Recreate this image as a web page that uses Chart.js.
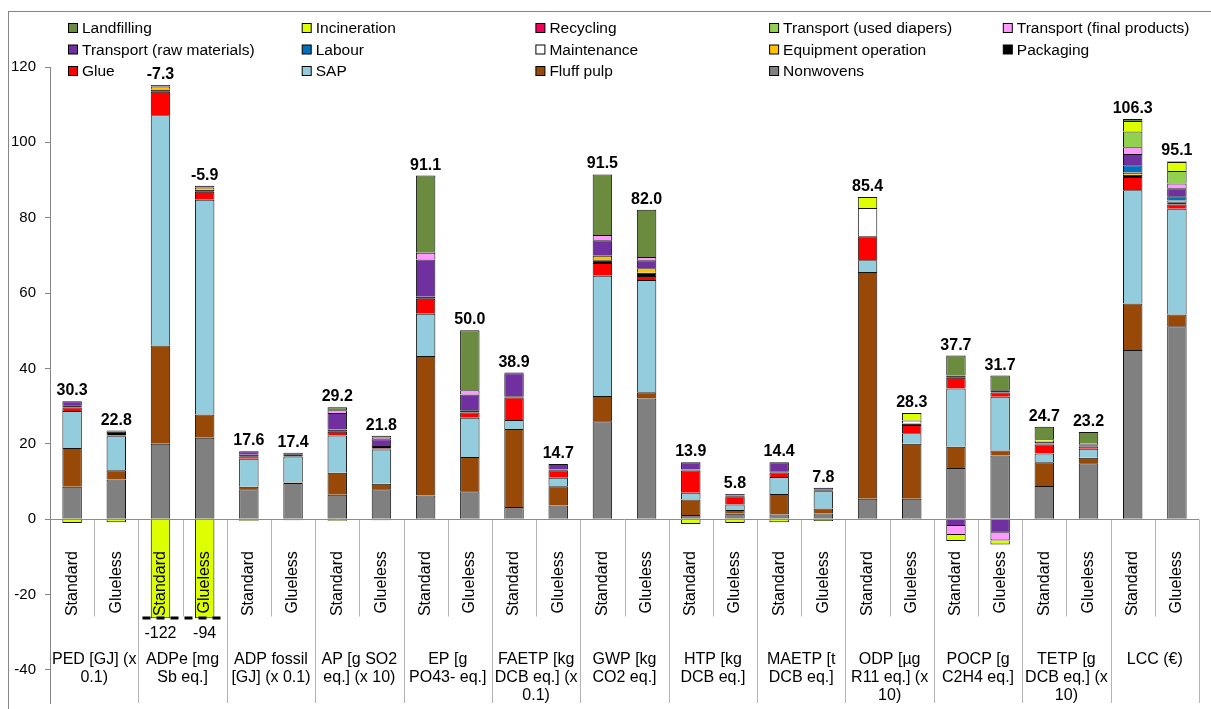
<!DOCTYPE html>
<html>
<head>
<meta charset="utf-8">
<script src="https://cdn.jsdelivr.net/npm/chart.js@4.4.1/dist/chart.umd.min.js"></script>
<style>
  body { margin: 0; background: #fff; }
</style>
</head>
<body>
<canvas id="lcaChart" width="1211" height="709"></canvas>
<script>
const FONT = "'Liberation Sans', Arial, sans-serif";

// two bars per impact category
const variants = ['Standard', 'Glueless'];
const categories = [
  ['PED [GJ] (x', '0.1)'],
  ['ADPe [mg', 'Sb eq.]'],
  ['ADP fossil', '[GJ] (x 0.1)'],
  ['AP [g SO2', 'eq.] (x 10)'],
  ['EP [g', 'PO43- eq.]'],
  ['FAETP [kg', 'DCB eq.] (x', '0.1)'],
  ['GWP [kg', 'CO2 eq.]'],
  ['HTP [kg', 'DCB eq.]'],
  ['MAETP [t', 'DCB eq.]'],
  ['ODP [µg', 'R11 eq.] (x', '10)'],
  ['POCP [g', 'C2H4 eq.]'],
  ['TETP [g', 'DCB eq.] (x', '10)'],
  ['LCC (€)']
];

// contributions per bar: Standard, Glueless for each category
const nonwovens      = [8.6, 10.5, 20.0, 21.6, 7.9, 9.6, 6.5, 7.9, 6.3, 7.4, 3.2, 3.6, 26.0, 32.0, 1.1, 1.4, 1.2, 1.5, 5.4, 5.4, 13.6, 16.9, 8.8, 14.8, 44.9, 51.2];
const fluffPulp      = [10.3, 2.5, 26.1, 6.2, 0.7, 0.1, 5.8, 1.5, 37.0, 9.1, 20.7, 5.1, 6.7, 1.7, 4.1, 1.0, 5.5, 1.3, 60.2, 14.6, 5.6, 1.3, 6.3, 1.5, 12.3, 3.1];
const sap            = [9.8, 9.0, 61.1, 57.0, 7.4, 6.9, 9.9, 9.1, 11.2, 10.4, 2.4, 2.3, 31.9, 29.8, 1.8, 1.5, 4.5, 4.6, 3.1, 2.8, 15.5, 14.3, 2.3, 2.4, 30.1, 28.1];
const glue           = [0.9, 0.2, 6.2, 2.1, 0.7, 0, 1.0, 0.3, 4.0, 1.4, 6.0, 2.0, 3.4, 1.0, 5.9, 2.2, 1.2, 0.1, 6.4, 2.2, 2.8, 1.1, 2.4, 0.6, 3.5, 1.1];
const packaging      = [0.6, 1.0, 0.6, 0.5, 0.4, 0.6, 0.6, 0.6, 0.5, 0.6, 0.3, 0.2, 0.7, 0.9, 0.3, 0.2, 0.3, 0.3, 0, 0.4, 0.6, 0.6, 0.3, 0.3, 0.6, 0.6];
const equipment      = [0, 0, 0.8, 0.6, 0, 0, 0, 0, 0, 0, 0, 0, 1.2, 1.2, 0, 0, 0, 0, 0, 0, 0, 0, 0, 0, 0.5, 0.5];
const maintenance    = [0, 0, 0, 0, 0, 0, 0, 0, 0, 0, 0, 0, 0, 0, 0, 0, 0, 0, 7.5, 0.8, 0, 0, 0, 0, 0.2, 0];
const labour         = [0, 0, 0, 0, 0, 0, 0, 0, 0, 0, 0, 0, 0, 0, 0, 0, 0, 0, 0, 0, 0, 0, 0, 0, 1.8, 1.1];
const transportRaw   = [1.1, 0.3, 0.4, 0.5, 0.9, 0.4, 4.4, 1.8, 9.9, 4.2, 6.1, 1.4, 4.1, 2.1, 1.9, 0.4, 2.4, 0.5, 0, 0, -1.8, -3.6, 0.4, 0.3, 3.0, 2.1];
const transportFinal = [0, 0, 0, 0, 0, 0, 0.7, 0.4, 1.8, 1.1, 0, 0, 1.4, 0.9, 0, 0, 0, 0, 0, 0, -2.4, -2.1, 0.3, 0, 1.8, 1.3];
const transportUsed  = [0, 0, 0, 0, 0, 0, 0, 0, 0, 0, 0, 0, 0, 0, 0, 0, 0, 0, 0, 0, 0, 0, 0, 0, 4.2, 3.3];
const recycling      = [0, 0, 0, 0, 0, 0, 0, 0, 0, 0, 0, 0, 0, 0, 0, 0, 0, 0, 0, 0, 0, 0, 0, 0, 0, 0];
const incineration   = [-1.0, -0.8, -122, -94, -0.4, -0.3, -0.4, -0.3, 0, 0, 0, 0, 0, 0, -1.3, -1.0, -0.8, -0.5, 2.9, 2.0, -1.6, -1.0, 0.4, 0.3, 2.8, 2.4];
const landfilling    = [0, 0, 0, 0, 0, 0, 0.8, 0.5, 20.5, 15.9, 0.2, 0, 16.1, 12.5, 0, 0, 0, 0, 0, 0, 5.3, 3.9, 3.3, 2.9, 0.5, 0.2];

// net totals printed above the bars
const totals = ['30.3', '22.8', '-7.3', '-5.9', '17.6', '17.4', '29.2', '21.8', '91.1', '50.0', '38.9', '14.7',
  '91.5', '82.0', '13.9', '5.8', '14.4', '7.8', '85.4', '28.3', '37.7', '31.7', '24.7', '23.2', '106.3', '95.1'];

// the axis is broken here; longer bars are cut and their value written under the cut
const BREAK_AT = -26.3;
const yTicks = [-40, -20, 0, 20, 40, 60, 80, 100, 120];

// stacking order bottom -> top
const series = [
  { label: 'Nonwovens', data: nonwovens, color: '#808080' },
  { label: 'Fluff pulp', data: fluffPulp, color: '#984807' },
  { label: 'SAP', data: sap, color: '#93CDDD' },
  { label: 'Glue', data: glue, color: '#FF0000' },
  { label: 'Packaging', data: packaging, color: '#000000' },
  { label: 'Equipment operation', data: equipment, color: '#FFC000' },
  { label: 'Maintenance', data: maintenance, color: '#FFFFFF' },
  { label: 'Labour', data: labour, color: '#0070C0' },
  { label: 'Transport (raw materials)', data: transportRaw, color: '#7030A0' },
  { label: 'Transport (final products)', data: transportFinal, color: '#FF99FF' },
  { label: 'Transport (used diapers)', data: transportUsed, color: '#92D050' },
  { label: 'Recycling', data: recycling, color: '#F0005A' },
  { label: 'Incineration', data: incineration, color: '#DDFF00' },
  { label: 'Landfilling', data: landfilling, color: '#6B8B3F' }
];

const labels = [];
categories.forEach(c => variants.forEach(v => labels.push(v)));

const datasets = series.map(s => ({
  label: s.label,
  data: s.data.map(v => v === 0 ? null : Math.max(v, BREAK_AT)),
  backgroundColor: s.color,
  borderColor: '#111',
  // one outline per edge between stacked pieces, not two
  borderWidth: ctx => (ctx.raw >= 0
    ? { top: 1, left: 1, right: 1, bottom: 0 }
    : { top: 0, left: 1, right: 1, bottom: 1 }),
  borderSkipped: false,
  barPercentage: 0.44,
  categoryPercentage: 1
}));

const decorations = {
  id: 'decorations',
  beforeDatasetsDraw(chart) {
    const { ctx, chartArea, scales } = chart;
    const zeroY = Math.round(scales.y.getPixelForValue(0)) + 0.5;
    const slot = chartArea.width / labels.length;
    ctx.save();
    ctx.lineWidth = 1;
    ctx.strokeStyle = '#B4B4B4';
    for (let k = 1; k <= labels.length; k++) {
      const x = Math.round(chartArea.left + k * slot) + 0.5;
      ctx.beginPath();
      ctx.moveTo(x, zeroY);
      ctx.lineTo(x, k % 2 === 0 ? chartArea.bottom : zeroY + 97);
      ctx.stroke();
    }
    ctx.restore();
  },
  afterDatasetsDraw(chart) {
    const { ctx, chartArea, scales } = chart;
    const x = scales.x, y = scales.y;
    const zeroY = y.getPixelForValue(0);
    ctx.save();

    // category axis line at zero
    ctx.strokeStyle = '#8C8C8C';
    ctx.lineWidth = 1;
    ctx.beginPath();
    ctx.moveTo(chartArea.left, Math.round(zeroY) + 0.5);
    ctx.lineTo(chartArea.right, Math.round(zeroY) + 0.5);
    ctx.stroke();

    ctx.fillStyle = '#000';
    // totals above the positive stacks
    ctx.font = 'bold 16px ' + FONT;
    ctx.textAlign = 'center';
    ctx.textBaseline = 'alphabetic';
    labels.forEach((l, i) => {
      const top = series.reduce((s, d) => s + Math.max(d.data[i], 0), 0);
      ctx.fillText(totals[i], x.getPixelForValue(i), y.getPixelForValue(top) - 6);
    });

    // rotated variant labels
    ctx.font = '16px ' + FONT;
    labels.forEach((l, i) => {
      ctx.save();
      ctx.translate(x.getPixelForValue(i), zeroY + 32);
      ctx.rotate(-Math.PI / 2);
      ctx.textAlign = 'right';
      ctx.textBaseline = 'middle';
      ctx.fillText(l, 0, 0);
      ctx.restore();
    });

    // category names
    ctx.textAlign = 'center';
    ctx.textBaseline = 'middle';
    categories.forEach((lines, c) => {
      const cx = (x.getPixelForValue(2 * c) + x.getPixelForValue(2 * c + 1)) / 2;
      lines.forEach((t, j) => ctx.fillText(t, cx, zeroY + 140 + j * 18));
    });

    // axis break marker and cut values
    const breakY = Math.round(y.getPixelForValue(BREAK_AT));
    const cut = labels.map((l, i) => i).filter(i => incineration[i] < BREAK_AT);
    if (cut.length) {
      const x0 = x.getPixelForValue(cut[0]) - 18;
      const x1 = x.getPixelForValue(cut[cut.length - 1]) + 19;
      ctx.strokeStyle = '#000';
      ctx.lineWidth = 3;
      ctx.setLineDash([8, 6]);
      ctx.beginPath();
      ctx.moveTo(x0, breakY);
      ctx.lineTo(x1, breakY);
      ctx.stroke();
      ctx.setLineDash([]);
      cut.forEach(i => ctx.fillText(String(incineration[i]), x.getPixelForValue(i), breakY + 16));
    }
    ctx.restore();
  },
  afterDraw(chart) {
    const { ctx } = chart;
    ctx.save();
    // outer frame
    ctx.strokeStyle = '#868686';
    ctx.lineWidth = 1;
    ctx.strokeRect(8.5, 11.5, 1400, 900);
    // legend, reversed like the stack, 5 per row
    ctx.font = '15.5px ' + FONT;
    ctx.textAlign = 'left';
    ctx.textBaseline = 'middle';
    series.slice().reverse().forEach((s, i) => {
      const lx = 68 + (i % 5) * 233.7;
      const ly = 28 + Math.floor(i / 5) * 21.5;
      ctx.fillStyle = s.color;
      ctx.fillRect(lx + 0.5, ly - 4.5, 9, 9);
      ctx.strokeStyle = '#000';
      ctx.strokeRect(lx + 0.5, ly - 4.5, 9, 9);
      ctx.fillStyle = '#000';
      ctx.fillText(s.label, lx + 14, ly + 1);
    });
    ctx.restore();
  }
};

new Chart(document.getElementById('lcaChart'), {
  type: 'bar',
  data: { labels: labels, datasets: datasets },
  options: {
    responsive: false,
    animation: false,
    devicePixelRatio: 1,
    layout: { padding: { left: 0, right: 12, top: 67, bottom: 6 } },
    plugins: { legend: { display: false }, tooltip: { enabled: false } },
    scales: {
      x: { stacked: true, display: false },
      y: {
        stacked: true,
        min: -48.8,
        max: 120,
        afterFit(scale) {
          scale.width = 50;
          scale.paddingTop = 0;
          scale.paddingBottom = 0;
        },
        afterBuildTicks(scale) { scale.ticks = yTicks.map(v => ({ value: v })); },
        ticks: { color: '#000', font: { family: FONT, size: 15 }, padding: 9 },
        grid: { drawOnChartArea: false, drawTicks: true, tickLength: 5, color: '#868686' },
        border: { color: '#868686' }
      }
    }
  },
  plugins: [decorations]
});
</script>
</body>
</html>
